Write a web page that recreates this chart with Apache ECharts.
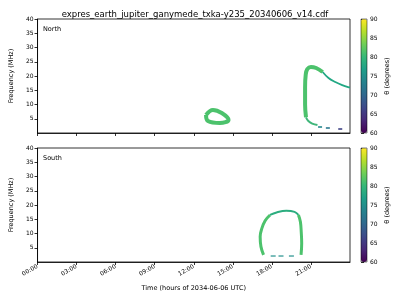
<!DOCTYPE html>
<html><head><meta charset="utf-8">
<script src="https://cdn.jsdelivr.net/npm/echarts@6/dist/echarts.min.js"></script>
<style>html,body{margin:0;padding:0;background:#fff}#c{width:400px;height:300px}</style>
</head><body><div id="c"></div>
<script>
const titleText = 'expres_earth_jupiter_ganymede_txka-y235_20340606_v14.cdf';
const xTickHours = [0, 3, 6, 9, 12, 15, 18, 21];
const xTickLabels = ['00:00', '03:00', '06:00', '09:00', '12:00', '15:00', '18:00', '21:00'];
const freqTicks = [5, 10, 15, 20, 25, 30, 35, 40];
const thetaTicks = [60, 65, 70, 75, 80, 85, 90];

// North hemisphere (top panel)
const northBlobHour = [12.94, 13.47, 14.15, 14.67, 14.0, 13.09, 12.94];
const northBlobFreq = [6.3, 8.1, 7.0, 4.6, 3.5, 4.2, 6.3];
const northBandHour = [20.62, 20.55, 20.55, 20.6, 20.72, 21.0, 21.4, 21.9];
const northBandFreq = [5.5, 10, 16, 20.5, 22.4, 23.2, 22.8, 21.4];
const northTailHour = [21.9, 22.35, 22.87, 23.4, 23.85, 24.0];
const northTailFreq = [21.4, 19.3, 17.9, 16.8, 16.1, 16.0];
const northFootHour = [20.62, 20.8, 21.1, 21.5];
const northFootFreq = [5.5, 4.2, 3.3, 2.8];
const northDotHour = [21.7, 22.3, 23.25];
const northDotFreq = [2.1, 1.75, 1.4];
const northDotTheta = [74, 72, 66];

// South hemisphere (bottom panel)
const southLeftHour = [17.36, 17.16, 17.1, 17.23, 17.48, 17.86];
const southLeftFreq = [2.5, 5.4, 8.9, 11.8, 14.5, 16.5];
const southTopHour = [17.86, 18.36, 19.11, 19.74, 20.04];
const southTopFreq = [16.5, 17.4, 18.0, 17.6, 16.5];
const southRightHour = [20.04, 20.19, 20.26, 20.29, 20.24];
const southRightFreq = [16.5, 14.1, 10.1, 6.6, 2.5];
const southDotHour = [18.1, 18.7, 19.5];
const southDotFreq = [2.1, 2.1, 2.1];
const southDotTheta = [75, 75, 75];

const zip = (a, b) => a.map((v, i) => [v, b[i]]);
const zip3 = (a, b, c) => a.map((v, i) => [v, b[i], c[i]]);

const viridis = ['#440154','#482878','#3e4989','#31688e','#26828e','#1f9e89','#35b779','#6ece58','#b5de2b','#fde725'];
const F = 'DejaVu Sans';
const GREEN = '#4cc26c';
const TEAL = '#22a884';

const L = 31, W = 319, H = 114, T1 = 19, T2 = 148;

function xAx(gi, showLabels) {
  return {
    type: 'value', gridIndex: gi, min: 0, max: 24, interval: 3,
    axisLine: { show: true, lineStyle: { color: '#000', width: 0.8 } },
    axisTick: { show: true, length: 3, inside: false, customValues: xTickHours, lineStyle: { color: '#000', width: 0.8 } },
    axisLabel: { show: showLabels, customValues: xTickHours, rotate: 30, fontFamily: F, fontSize: 6, color: '#000', margin: 4,
      formatter: v => { const i = xTickHours.indexOf(v); return i >= 0 ? xTickLabels[i] : ''; } },
    splitLine: { show: false },
    name: showLabels ? 'Time (hours of 2034-06-06 UTC)' : '',
    nameLocation: 'middle', nameGap: 23,
    nameTextStyle: { fontFamily: F, fontSize: 6.5, color: '#000' }
  };
}
function yAx(gi) {
  return {
    type: 'value', gridIndex: gi, min: 0, max: 40, interval: 5,
    axisLine: { show: true, lineStyle: { color: '#000', width: 0.8 } },
    axisTick: { show: true, length: 3, customValues: freqTicks, lineStyle: { color: '#000', width: 0.8 } },
    axisLabel: { customValues: freqTicks, fontFamily: F, fontSize: 6, color: '#000', margin: 4 },
    splitLine: { show: false },
    name: 'Frequency (MHz)', nameLocation: 'middle', nameGap: 16,
    nameTextStyle: { fontFamily: F, fontSize: 6.5, color: '#000' }
  };
}
function cbY(gi) {
  return {
    type: 'value', gridIndex: gi, position: 'right', min: 60, max: 90, interval: 5,
    axisLine: { show: false },
    axisTick: { show: true, length: 3, customValues: thetaTicks, lineStyle: { color: '#000', width: 0.8 } },
    axisLabel: { customValues: thetaTicks, fontFamily: F, fontSize: 6, color: '#000', margin: 3 },
    splitLine: { show: false },
    name: 'θ (degrees)', nameLocation: 'middle', nameGap: 17,
    nameTextStyle: { fontFamily: F, fontSize: 6.5, color: '#000' }
  };
}
function cbX(gi) {
  return { type: 'value', gridIndex: gi, min: 0, max: 1, show: false };
}
function line(gi, data, color, width) {
  return { type: 'line', xAxisIndex: gi, yAxisIndex: gi, data, smooth: 0.4, showSymbol: false, symbol: 'none',
    lineStyle: { color, width, cap: 'butt', join: 'round' }, silent: true, z: 3 };
}

const chart = echarts.init(document.getElementById('c'), null, { renderer: 'canvas' });
chart.setOption({
  animation: false,
  backgroundColor: '#fff',
  title: { text: titleText, left: 190, top: 5, textAlign: 'center',
    textStyle: { fontFamily: F, fontSize: 8.5, fontWeight: 'normal', color: '#000' } },
  grid: [
    { left: L, top: T1, width: W, height: H, show: true, borderColor: '#000', borderWidth: 0.8, backgroundColor: 'transparent' },
    { left: L, top: T2, width: W, height: H, show: true, borderColor: '#000', borderWidth: 0.8, backgroundColor: 'transparent' },
    { left: 361, top: T1, width: 6, height: H, show: true, borderColor: '#000', borderWidth: 0.5, backgroundColor: 'transparent', z: 10 },
    { left: 361, top: T2, width: 6, height: H, show: true, borderColor: '#000', borderWidth: 0.5, backgroundColor: 'transparent', z: 10 }
  ],
  xAxis: [xAx(0, false), xAx(1, true), cbX(2), cbX(3)],
  yAxis: [yAx(0), yAx(1), cbY(2), cbY(3)],
  visualMap: [
    { type: 'continuous', min: 60, max: 90, dimension: 2, seriesIndex: 5, left: 361, top: T1, itemWidth: 6, itemHeight: H,
      padding: 0, calculable: false, showLabel: false, text: null, inRange: { color: viridis }, hoverLink: false },
    { type: 'continuous', min: 60, max: 90, dimension: 2, seriesIndex: 10, left: 361, top: T2, itemWidth: 6, itemHeight: H,
      padding: 0, calculable: false, showLabel: false, text: null, inRange: { color: viridis }, hoverLink: false }
  ],
  graphic: [
    { type: 'text', left: 43, top: 26, style: { text: 'North', fontFamily: F, fontSize: 6.5, fill: '#000' } },
    { type: 'text', left: 43, top: 155, style: { text: 'South', fontFamily: F, fontSize: 6.5, fill: '#000' } }
  ],
  series: [
    line(0, zip(northBlobHour, northBlobFreq), GREEN, 4),
    line(0, zip(northBandHour, northBandFreq), GREEN, 4),
    line(0, zip(northTailHour, northTailFreq), TEAL, 1.8),
    line(0, zip(northFootHour, northFootFreq), '#3fb67a', 2),
    { type: 'line', xAxisIndex: 0, yAxisIndex: 0, data: [], silent: true },
    { type: 'scatter', xAxisIndex: 0, yAxisIndex: 0, data: zip3(northDotHour, northDotFreq, northDotTheta),
      symbol: 'rect', symbolSize: [4, 2], silent: true },
    line(1, zip(southLeftHour, southLeftFreq), GREEN, 3),
    line(1, zip(southTopHour, southTopFreq), '#2cad7f', 2),
    line(1, zip(southRightHour, southRightFreq), GREEN, 3),
    { type: 'line', xAxisIndex: 1, yAxisIndex: 1, data: [], silent: true },
    { type: 'scatter', xAxisIndex: 1, yAxisIndex: 1, data: zip3(southDotHour, southDotFreq, southDotTheta),
      symbol: 'rect', symbolSize: [5, 1.5], silent: true }
  ]
});
</script></body></html>
